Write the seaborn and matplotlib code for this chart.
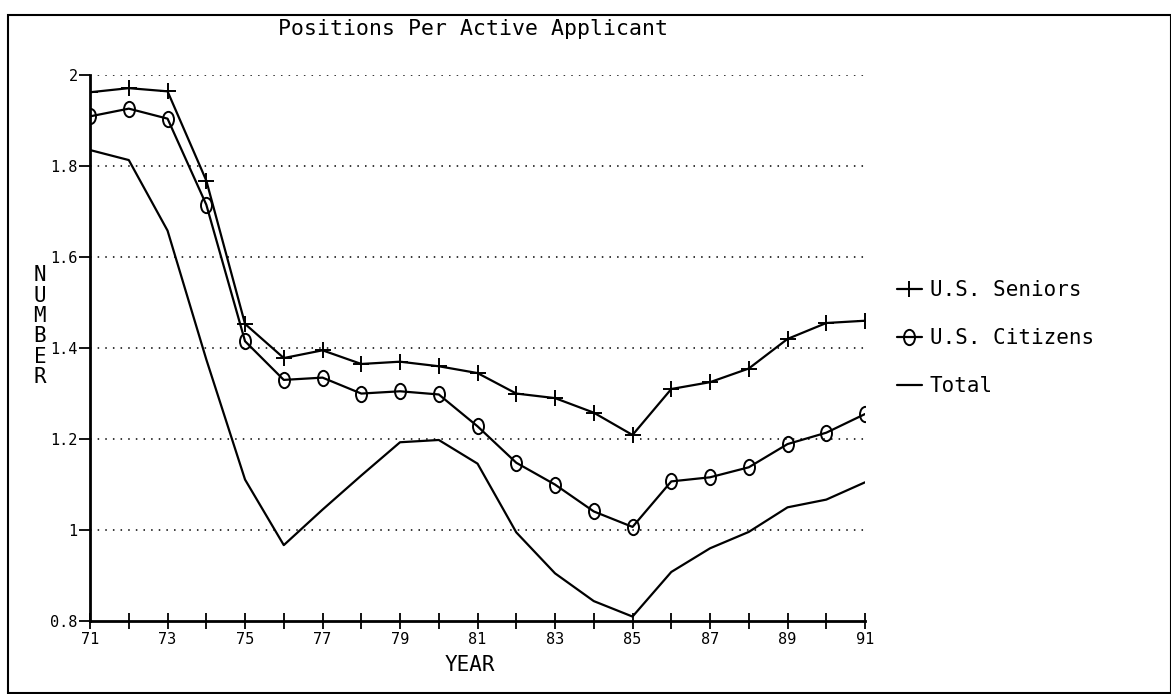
import matplotlib
matplotlib.use("Agg")
import matplotlib.pyplot as plt
import seaborn as sns
import pandas as pd
from matplotlib.patches import Rectangle
from matplotlib.path import Path

years = list(range(71, 92))
seniors = [1.962, 1.971, 1.964, 1.768, 1.453, 1.378, 1.395, 1.365, 1.370, 1.360,
           1.345, 1.300, 1.290, 1.258, 1.209, 1.310, 1.325, 1.355, 1.420, 1.455, 1.460]
citizens = [1.909, 1.926, 1.904, 1.715, 1.415, 1.330, 1.335, 1.300, 1.305, 1.298,
            1.228, 1.148, 1.100, 1.041, 1.007, 1.107, 1.116, 1.138, 1.189, 1.214, 1.255]
total = [1.835, 1.813, 1.658, 1.375, 1.111, 0.967, 1.045, 1.120, 1.193, 1.198,
         1.146, 0.995, 0.905, 0.844, 0.810, 0.908, 0.960, 0.996, 1.050, 1.067, 1.105]
y_ticks = [0.8, 1.0, 1.2, 1.4, 1.6, 1.8, 2.0]
y_tick_labels = ["0.8", "1", "1.2", "1.4", "1.6", "1.8", "2"]

df = pd.DataFrame({"year": years, "U.S. Seniors": seniors,
                   "U.S. Citizens": citizens, "Total": total})

sns.set_style("white")
plt.rcParams["font.family"] = ["DejaVu Sans Mono"]
plt.rcParams["text.color"] = "black"
plt.rcParams["xtick.color"] = "black"
plt.rcParams["ytick.color"] = "black"

# tall, narrow "o" like the plotter glyph
circ = Path.unit_circle()
oval = Path(circ.vertices * [0.72, 1.0], circ.codes)

fig = plt.figure(figsize=(11.71, 6.94), dpi=100)
ax = fig.add_axes([0.0769, 0.105, 0.6618, 0.787])

# dotted horizontal grid
for yv in y_ticks[1:]:
    ax.axhline(yv, color="black", lw=1.1, ls=(0, (1, 4)), zorder=1)

sns.lineplot(data=df, x="year", y="U.S. Seniors", ax=ax, color="black", lw=1.6,
             marker="+", markersize=11, markeredgewidth=1.4, markeredgecolor="black",
             label="U.S. Seniors")
sns.lineplot(data=df, x="year", y="U.S. Citizens", ax=ax, color="black", lw=1.6,
             marker=oval, markersize=11, markerfacecolor="none", markeredgecolor="black",
             markeredgewidth=1.4, label="U.S. Citizens")
sns.lineplot(data=df, x="year", y="Total", ax=ax, color="black", lw=1.6, label="Total")

ax.set_xlim(71, 91)
ax.set_ylim(0.8, 2.0)
ax.set_xticks(years)
ax.set_xticklabels([str(y) if y % 2 == 1 else "" for y in years], fontsize=11)
ax.set_yticks(y_ticks)
ax.set_yticklabels(y_tick_labels, fontsize=11)
ax.tick_params(axis="x", bottom=True, direction="inout", length=12, width=1.3, pad=2)
ax.tick_params(axis="y", left=True, direction="out", length=8, width=1.3, pad=1)
for s in ["top", "right"]:
    ax.spines[s].set_visible(False)
for s in ["left", "bottom"]:
    ax.spines[s].set_linewidth(2)
    ax.spines[s].set_color("black")
ax.set_xlabel("")
ax.set_ylabel("")

fig.text(0.404, 0.958, "Positions Per Active Applicant", ha="center", va="center", fontsize=15.5)
fig.text(0.401, 0.042, "YEAR", ha="center", va="center", fontsize=15)
fig.text(0.034, 0.53, "N\nU\nM\nB\nE\nR", ha="center", va="center", fontsize=15,
         linespacing=1.02)

ax.legend(loc="center left", bbox_to_anchor=(1.03, 0.518), frameon=False,
          fontsize=15, handlelength=1.2, handletextpad=0.4, labelspacing=1.35,
          borderaxespad=0)

fig.add_artist(Rectangle((8 / 1171, 0.002), 1 - 8 / 1171, 1 - 15 / 694 - 0.002,
                         transform=fig.transFigure, fill=False, lw=1.5, ec="black"))

fig.savefig("out.png", dpi=100, facecolor="white")
